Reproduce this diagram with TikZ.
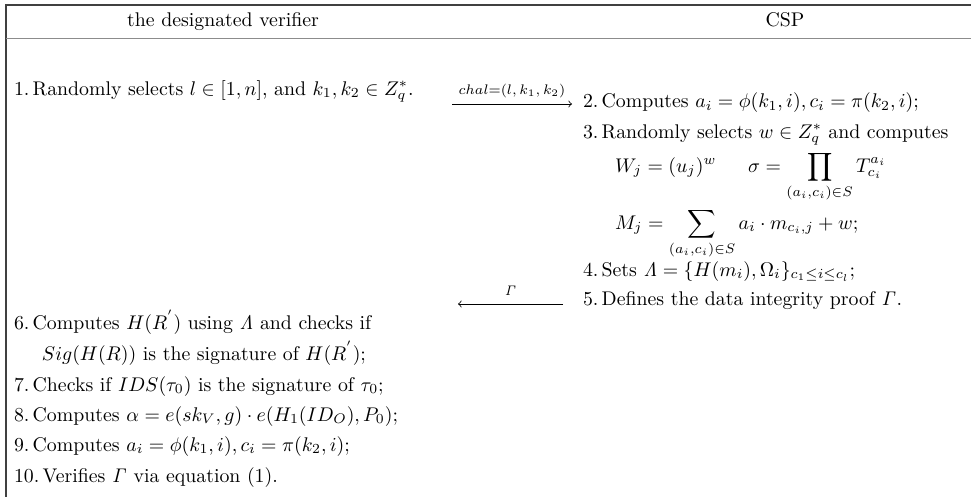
\documentclass[tikz,border=0pt]{standalone}
\usepackage{amsmath,amssymb}
\begin{document}
\begin{tikzpicture}[x=0.505pt,y=-0.505pt,
  txt/.style={anchor=base west,inner sep=0pt,outer sep=0pt},
  hdr/.style={anchor=base,inner sep=0pt},
  msg/.style={->,line width=0.4pt},
  lbl/.style={inner sep=0pt,font=\scriptsize}]
\useasboundingbox (0,0) rectangle (971,497);
% frame
\draw[line width=0.6pt,black!75] (971,5) -- (6,5) -- (6,497);
\draw[line width=0.9pt,black!45] (6,38.5) -- (971,38.5);
% headers
\node[hdr] (h1) at (223,27) {the designated verifier};
\node[hdr] (h2) at (785,27) {CSP};
% left column
\node[txt] (s1) at (14,95) {1.\,Randomly selects $l\in[1,n]$, and $k_1,k_2\in Z_q^*$.};
\node[txt] (s6) at (14,329) {6.\,Computes $H(R^{'})$ using $\mathit{\Lambda}$ and checks if};
\node[txt] (s6b) at (42,360) {$Sig(H(R))$ is the signature of $H(R^{'})$;};
\node[txt] (s7) at (14,391) {7.\,Checks if $IDS(\tau_0)$ is the signature of $\tau_0$;};
\node[txt] (s8) at (14,421) {8.\,Computes $\alpha=e(sk_V,g)\cdot e(H_1(ID_O),P_0)$;};
\node[txt] (s9) at (14,451) {9.\,Computes $a_i=\phi(k_1,i),c_i=\pi(k_2,i)$;};
\node[txt] (s10) at (14,482) {10.\,Verifies $\mathit{\Gamma}$ via equation (1).};
% right column
\node[txt] (r2) at (583,108) {2.\,Computes $a_i=\phi(k_1,i),c_i=\pi(k_2,i)$;};
\node[txt] (r3) at (583,138) {3.\,Randomly selects $w\in Z_q^*$ and computes};
\node[txt] (r3a) at (615,172) {$W_j=(u_j)^w$};
\node[txt] (r3c) at (748,172) {$\displaystyle \sigma=\prod_{(a_i,c_i)\in S}T_{c_i}^{a_i}$};
\node[txt] (r3b) at (615,229) {$\displaystyle M_j=\sum_{(a_i,c_i)\in S}a_i\cdot m_{c_i,j}+w;$};
\node[txt] (r4) at (583,276) {4.\,Sets $\mathit{\Lambda}=\{H(m_i),\Omega_i\}_{c_1\leq i\leq c_l}$;};
\node[txt] (r5) at (583,305) {5.\,Defines the data integrity proof $\mathit{\Gamma}$.};
% messages
\coordinate (m1s) at (452,104);
\coordinate (m1e) at (572,104);
\draw[msg] (m1s) -- node[lbl,above=3pt] {$chal{=}(l,k_1,k_2)$} (m1e);
\coordinate (m2s) at (563,304);
\coordinate (m2e) at (458,304);
\draw[msg] (m2s) -- node[lbl,above=4pt] {$\mathit{\Gamma}$} (m2e);
\end{tikzpicture}
\end{document}
